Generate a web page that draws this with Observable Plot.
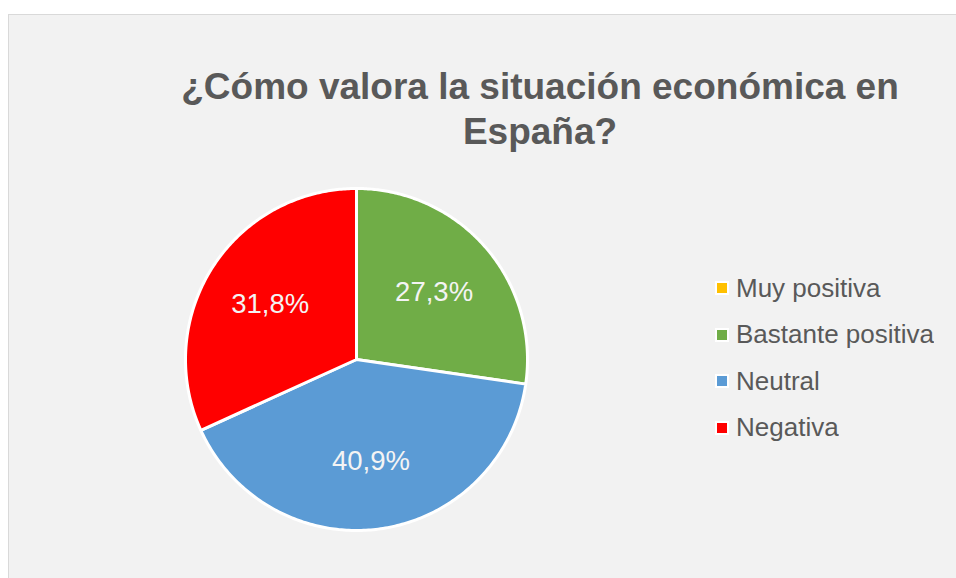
<!DOCTYPE html>
<html>
<head>
<meta charset="utf-8">
<script src="https://cdn.jsdelivr.net/npm/d3@7"></script>
<script src="https://cdn.jsdelivr.net/npm/@observablehq/plot@0.6"></script>
<style>
html,body{margin:0;padding:0;background:#fff;width:956px;height:578px;overflow:hidden;font-family:"Liberation Sans",Arial,Helvetica,sans-serif;}
#panel{position:absolute;left:8px;top:14px;width:980px;height:600px;background:#f2f2f2;border:1px solid #d9d9d9;box-sizing:border-box;}
#title{position:absolute;left:140px;width:800px;top:64px;text-align:center;font-weight:bold;font-size:37px;line-height:45px;color:#595959;}
#chart{position:absolute;left:0;top:0;}
#legend{position:absolute;left:715px;top:265px;}
#legend .lg-swatches{font-family:"Liberation Sans",Arial,Helvetica,sans-serif;font-size:26px;color:#595959;margin:0;}
#legend .lg-swatch{height:46.5px;margin:0;padding:0;display:flex;align-items:center;}
#legend .lg-swatch > svg{margin-right:7px;border:2px solid #fff;box-sizing:content-box;}
</style>
</head>
<body>
<div id="panel"></div>
<div id="chart"></div>
<div id="title">¿Cómo valora la situación económica en<br>España?</div>
<div id="legend"></div>
<script>
const categories = ["Muy positiva", "Bastante positiva", "Neutral", "Negativa"];
const values = [0, 27.3, 40.9, 31.8];
const colors = ["#ffc000", "#70ad47", "#5b9bd5", "#ff0000"];

const rows = categories.map((c, i) => ({category: c, value: values[i]}));
const arcs = d3.pie().sort(null).value(d => d.value)(rows);

const points = [];
const labels = [];
for (const a of arcs) {
  if (a.endAngle - a.startAngle <= 0) continue;
  const cat = a.data.category;
  points.push({category: cat, x: 0, y: 0});
  const n = 180;
  for (let k = 0; k <= n; k++) {
    const t = a.startAngle + (a.endAngle - a.startAngle) * k / n;
    points.push({category: cat, x: Math.sin(t), y: Math.cos(t)});
  }
  const mid = (a.startAngle + a.endAngle) / 2;
  const r = 0.6;
  labels.push({
    category: cat,
    x: r * Math.sin(mid),
    y: r * Math.cos(mid),
    text: a.data.value.toFixed(1).replace(".", ",") + "%"
  });
}

const chart = Plot.plot({
  width: 956,
  height: 578,
  style: {background: "transparent", fontFamily: "'Liberation Sans', Arial, sans-serif"},
  x: {domain: [-1, 1], range: [185, 527], axis: null},
  y: {domain: [-1, 1], range: [530, 188], axis: null},
  color: {domain: categories, range: colors},
  marks: [
    Plot.line(points, {x: "x", y: "y", z: "category", fill: "category", stroke: "#ffffff", strokeWidth: 3, strokeLinejoin: "round", curve: "linear-closed"}),
    Plot.text(labels, {x: "x", y: "y", text: "text", fill: "#f4f4f4", fontSize: 27.5})
  ]
});
document.getElementById("chart").appendChild(chart);

const legend = Plot.legend({
  legend: "swatches",
  color: {type: "ordinal", domain: categories, range: colors},
  columns: 1,
  swatchSize: 10,
  className: "lg"
});
document.getElementById("legend").appendChild(legend);
</script>
</body>
</html>
